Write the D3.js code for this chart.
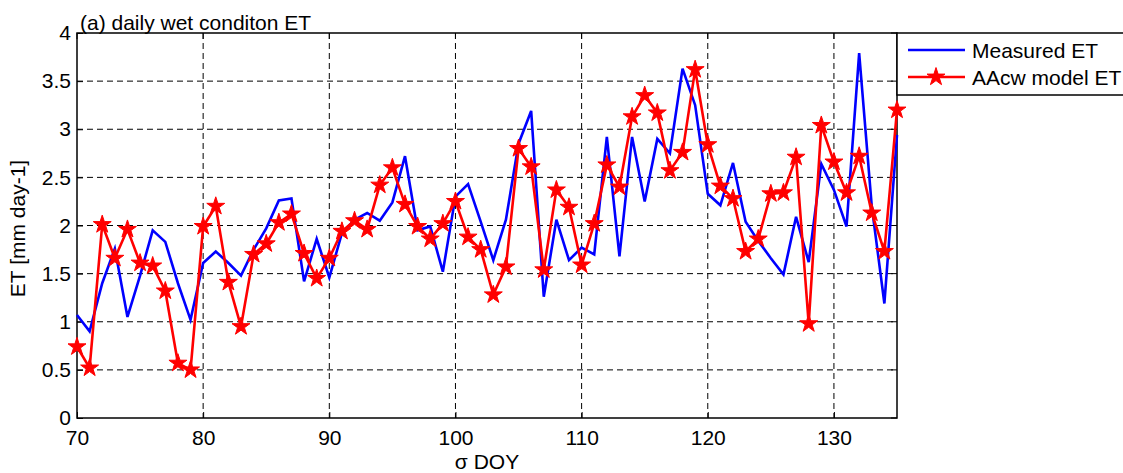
<!DOCTYPE html>
<html>
<head>
<meta charset="utf-8">
<script src="https://cdn.jsdelivr.net/npm/d3@7"></script>
<style>
  html, body { margin: 0; padding: 0; background: #fff; }
  svg { display: block; font-family: "Liberation Sans", Arial, Helvetica, sans-serif; }
</style>
</head>
<body>
<svg id="chart" width="1123" height="473"></svg>
<script>
// Day of year, 70 .. 135
const days = d3.range(70, 136);

// Measured ET [mm day-1]
const measuredET = [
  1.07, 0.90, 1.40, 1.76, 1.05, 1.48, 1.95, 1.83, 1.40, 1.02,
  1.61, 1.73, 1.61, 1.48, 1.75, 1.97, 2.26, 2.28, 1.42, 1.86,
  1.46, 1.92, 2.06, 2.13, 2.05, 2.24, 2.72, 1.95, 1.99, 1.52,
  2.30, 2.43, 2.04, 1.64, 2.06, 2.85, 3.19, 1.26, 2.06, 1.64,
  1.77, 1.70, 2.92, 1.68, 2.92, 2.25, 2.90, 2.75, 3.63, 3.25,
  2.33, 2.21, 2.65, 2.04, 1.84, 1.66, 1.49, 2.09, 1.62, 2.64,
  2.37, 1.99, 3.79, 2.20, 1.19, 2.94
];

// AAcw model ET [mm day-1]
const modelET = [
  0.74, 0.52, 2.01, 1.66, 1.96, 1.61, 1.58, 1.32, 0.57, 0.50,
  1.99, 2.20, 1.41, 0.95, 1.70, 1.81, 2.03, 2.12, 1.71, 1.45,
  1.66, 1.94, 2.05, 1.96, 2.42, 2.60, 2.22, 1.99, 1.86, 2.02,
  2.25, 1.88, 1.75, 1.28, 1.57, 2.80, 2.61, 1.54, 2.37, 2.19,
  1.59, 2.02, 2.63, 2.40, 3.13, 3.35, 3.17, 2.57, 2.76, 3.62,
  2.84, 2.41, 2.28, 1.73, 1.86, 2.33, 2.34, 2.71, 0.98, 3.04,
  2.66, 2.34, 2.72, 2.13, 1.73, 3.20
];

const xTicks = [70, 80, 90, 100, 110, 120, 130];
const yTicks = [0, 0.5, 1, 1.5, 2, 2.5, 3, 3.5, 4];
const seriesNames = ["Measured ET", "AAcw model ET"];

const svg = d3.select("#chart");
const margin = { left: 77, right: 897, top: 33, bottom: 418 };

const x = d3.scaleLinear().domain([70, 135]).range([margin.left, margin.right]);
const y = d3.scaleLinear().domain([0, 4]).range([margin.bottom, margin.top]);

const fontSize = 21;

// dashed grid
const grid = svg.append("g");
grid.selectAll(".gx").data(xTicks.slice(1)).join("line")
  .attr("x1", d => x(d)).attr("x2", d => x(d))
  .attr("y1", margin.top).attr("y2", margin.bottom)
  .attr("stroke", "#000").attr("stroke-width", 1).attr("stroke-dasharray", "6,4");
grid.selectAll(".gy").data(yTicks.slice(1, -1)).join("line")
  .attr("x1", margin.left).attr("x2", margin.right)
  .attr("y1", d => y(d)).attr("y2", d => y(d))
  .attr("stroke", "#000").attr("stroke-width", 1).attr("stroke-dasharray", "6,4");

// axes (ticks point inward)
const xAxis = d3.axisBottom(x).tickValues(xTicks).tickSize(-6).tickPadding(12).tickFormat(d3.format("d"));
const yAxis = d3.axisLeft(y).tickValues(yTicks).tickSize(-6).tickPadding(6).tickFormat(d => String(d));

const gx = svg.append("g").attr("transform", `translate(0,${margin.bottom})`).call(xAxis);
const gy = svg.append("g").attr("transform", `translate(${margin.left},0)`).call(yAxis);
[gx, gy].forEach(g => {
  g.select(".domain").remove();
  g.selectAll("text").attr("font-size", fontSize).attr("fill", "#000")
    .attr("font-family", "Liberation Sans, Arial, sans-serif");
  g.selectAll("line").attr("stroke", "#000");
});
// top and right ticks
svg.append("g").selectAll("line").data(xTicks).join("line")
  .attr("x1", d => x(d)).attr("x2", d => x(d))
  .attr("y1", margin.top).attr("y2", margin.top + 6).attr("stroke", "#000");
svg.append("g").selectAll("line").data(yTicks).join("line")
  .attr("x1", margin.right).attr("x2", margin.right - 6)
  .attr("y1", d => y(d)).attr("y2", d => y(d)).attr("stroke", "#000");

// plot box
svg.append("rect")
  .attr("x", margin.left).attr("y", margin.top)
  .attr("width", margin.right - margin.left).attr("height", margin.bottom - margin.top)
  .attr("fill", "none").attr("stroke", "#000").attr("stroke-width", 1.5);

// series
const line = d3.line().x((d, i) => x(days[i])).y(d => y(d));
svg.append("path").datum(measuredET).attr("d", line)
  .attr("fill", "none").attr("stroke", "#0000ff").attr("stroke-width", 2.6)
  .attr("stroke-linejoin", "miter");
svg.append("path").datum(modelET).attr("d", line)
  .attr("fill", "none").attr("stroke", "#ff0000").attr("stroke-width", 2.6)
  .attr("stroke-linejoin", "miter");

const star = d3.symbol().type(d3.symbolStar).size(100);
svg.append("g").selectAll("path").data(modelET).join("path")
  .attr("d", star)
  .attr("transform", (d, i) => `translate(${x(days[i])},${y(d)})`)
  .attr("fill", "#ff0000").attr("stroke", "#ff0000").attr("stroke-width", 1);

// title
svg.append("text").attr("x", 80).attr("y", 30)
  .attr("font-size", fontSize).attr("fill", "#000")
  .text("(a) daily wet conditon ET");

// axis labels
svg.append("text").attr("x", (margin.left + margin.right) / 2).attr("y", 469)
  .attr("text-anchor", "middle").attr("font-size", fontSize).text("σ DOY");
svg.append("text")
  .attr("transform", `translate(25,${(margin.top + margin.bottom) / 2 + 3}) rotate(-90)`)
  .attr("text-anchor", "middle").attr("font-size", fontSize).text("ET [mm day-1]");

// legend
const lg = svg.append("g");
lg.append("rect").attr("x", 897).attr("y", 33).attr("width", 240).attr("height", 62)
  .attr("fill", "#fff").attr("stroke", "#000").attr("stroke-width", 1.5);
const legendRows = [
  { name: seriesNames[0], color: "#0000ff", marker: false, yy: 50 },
  { name: seriesNames[1], color: "#ff0000", marker: true, yy: 77 }
];
legendRows.forEach(r => {
  lg.append("line").attr("x1", 908).attr("x2", 965).attr("y1", r.yy).attr("y2", r.yy)
    .attr("stroke", r.color).attr("stroke-width", 2.6);
  if (r.marker) {
    lg.append("path").attr("d", star).attr("transform", `translate(936,${r.yy})`)
      .attr("fill", r.color).attr("stroke", r.color);
  }
  lg.append("text").attr("x", 972).attr("y", r.yy + 8).attr("font-size", fontSize).text(r.name);
});
</script>
</body>
</html>
